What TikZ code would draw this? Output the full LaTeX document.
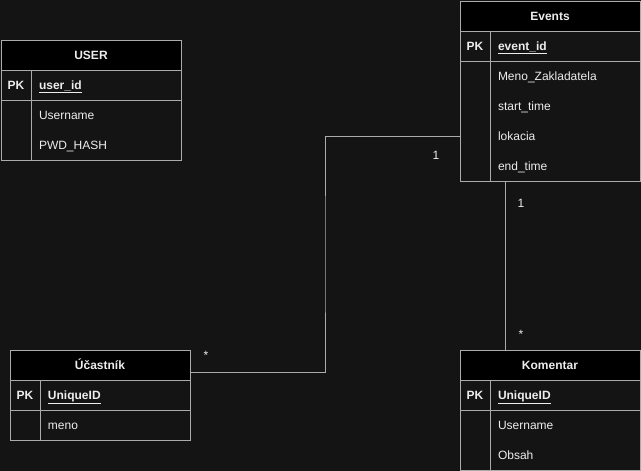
\documentclass[tikz,border=0pt]{standalone}
\usepackage{fontspec}
\setmainfont{Liberation Sans}
\usepackage{tikz}
\usetikzlibrary{positioning,calc}
\usepackage{xcolor}
\definecolor{canvas}{HTML}{141414}
\definecolor{edgeGray}{HTML}{ABABAB}
\definecolor{inkWhite}{HTML}{EDEDED}
\newcommand{\erFont}{\fontsize{12}{14}\selectfont}

\begin{document}
\begin{tikzpicture}[x=1pt, y=-1pt,
    every node/.style={outer sep=0pt, text height=10pt, text depth=1.5pt},
    tableHead/.style={draw=edgeGray, line width=1pt, fill=black, text=inkWhite, font=\erFont\bfseries, anchor=north west, minimum width=180pt, minimum height=30pt, inner sep=0pt},
    keyCell/.style={draw=edgeGray, line width=1pt, fill=canvas, text=inkWhite, font=\erFont\bfseries, anchor=north west, minimum width=30pt, minimum height=30pt, inner sep=0pt},
    keyField/.style={draw=edgeGray, line width=1pt, fill=canvas, text=inkWhite, font=\erFont\bfseries, anchor=north west, text width=134pt, inner xsep=8pt, inner ysep=0pt, minimum height=30pt, align=left},
    fieldCell/.style={text=inkWhite, font=\erFont, anchor=north west, text width=134pt, inner xsep=8pt, inner ysep=0pt, minimum height=30pt, align=left},
    linkStyle/.style={draw=edgeGray, line width=1pt},
    multLabel/.style={text=inkWhite, font=\erFont, inner sep=0pt, text height=, text depth=}
]
    \useasboundingbox[fill=canvas] (0,0) rectangle (641,471);

    % USER
    \node[tableHead] (userHead) at (1,40) {USER};
    \node[keyCell] (userPk) at (userHead.south west) {PK};
    \node[keyField] (userId) at (userPk.north east) {\underline{user\_id}};
    \node[keyCell, minimum height=60pt] (userKey) at (userPk.south west) {};
    \node[keyField, minimum height=60pt] (userBody) at (userKey.north east) {};
    \node[fieldCell] (userName) at (userBody.north west) {Username};
    \node[fieldCell] (userPwd) at (userName.south west) {PWD\_HASH};

    % Events
    \node[tableHead] (evHead) at (460,1) {Events};
    \node[keyCell] (evPk) at (evHead.south west) {PK};
    \node[keyField] (evId) at (evPk.north east) {\underline{event\_id}};
    \node[keyCell, minimum height=120pt] (evKey) at (evPk.south west) {};
    \node[keyField, minimum height=120pt] (evBody) at (evKey.north east) {};
    \node[fieldCell] (evMeno) at (evBody.north west) {Meno\_Zakladatela};
    \node[fieldCell] (evStart) at (evMeno.south west) {start\_time};
    \node[fieldCell] (evLok) at (evStart.south west) {lokacia};
    \node[fieldCell] (evEnd) at (evLok.south west) {end\_time};

    % Ucastnik
    \node[tableHead] (ucHead) at (10,350) {Účastník};
    \node[keyCell] (ucPk) at (ucHead.south west) {PK};
    \node[keyField] (ucId) at (ucPk.north east) {\underline{UniqueID}};
    \node[keyCell] (ucKey) at (ucPk.south west) {};
    \node[keyField] (ucBody) at (ucKey.north east) {};
    \node[fieldCell] (ucMeno) at (ucBody.north west) {meno};

    % Komentar
    \node[tableHead] (komHead) at (460,350) {Komentar};
    \node[keyCell] (komPk) at (komHead.south west) {PK};
    \node[keyField] (komId) at (komPk.north east) {\underline{UniqueID}};
    \node[keyCell, minimum height=60pt] (komKey) at (komPk.south west) {};
    \node[keyField, minimum height=60pt] (komBody) at (komKey.north east) {};
    \node[fieldCell] (komUser) at (komBody.north west) {Username};
    \node[fieldCell] (komObsah) at (komUser.south west) {Obsah};

    % relations
    \coordinate (ucOut) at ([yshift=-7pt]ucHead.east);
    \coordinate (evIn) at (evLok.west -| evHead.west);
    \draw[linkStyle] (ucOut) -| ($(ucOut)!.5!(evIn)$) |- (evIn);
    \coordinate (evOut) at ([xshift=-45pt]evKey.south -| evHead.south);
    \draw[linkStyle] (evOut) -- (evOut |- komHead.north);

    \node[multLabel] (ucMany) at (206,355) {*};
    \node[multLabel] (evOne) at (436,155) {1};
    \node[multLabel] (evOneDown) at (521,203) {1};
    \node[multLabel] (komMany) at (521,334) {*};
\end{tikzpicture}
\end{document}
